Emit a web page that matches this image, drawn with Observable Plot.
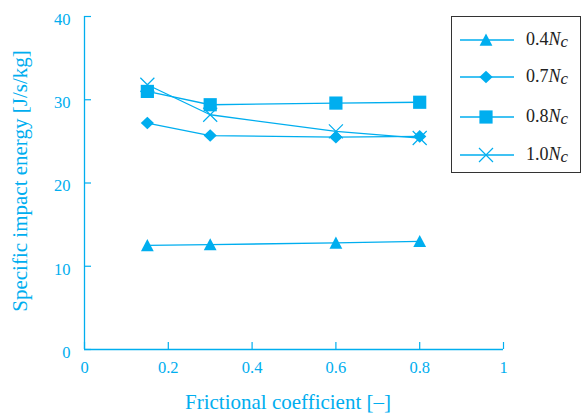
<!DOCTYPE html>
<html><head><meta charset="utf-8">
<script src="https://cdn.jsdelivr.net/npm/d3@7"></script>
<script src="https://cdn.jsdelivr.net/npm/@observablehq/plot@0.6"></script>
<style>
body{margin:0;background:#fff;}
#wrap{position:relative;width:584px;height:415px;font-family:"Liberation Serif","DejaVu Serif",serif;}
#wrap svg, #wrap svg text{font-family:"Liberation Serif","DejaVu Serif",serif !important;}
#legend{position:absolute;left:451px;top:16px;width:130px;height:157px;border:1px solid #333;box-sizing:border-box;background:#fff;}
.row{position:absolute;left:0;height:24px;display:flex;align-items:center;}
.row span{font-size:18px;color:#222;margin-left:10px;font-family:"Liberation Serif","DejaVu Serif",serif;}
.row sub{font-size:17px;vertical-align:-2px;}
</style></head>
<body><div id="wrap"></div>
<script>
const friction = [0.15, 0.3, 0.6, 0.8];
const seriesNames = ["0.4", "0.7", "0.8", "1.0"];
const energy04 = [12.5, 12.6, 12.8, 13.0];
const energy07 = [27.2, 25.7, 25.5, 25.6];
const energy08 = [31.0, 29.4, 29.6, 29.7];
const energy10 = [31.8, 28.2, 26.2, 25.4];
const xTicks = [0, 0.2, 0.4, 0.6, 0.8, 1];
const yTicks = [0, 10, 20, 30, 40];
const xLabel = "Frictional coefficient [–]";
const yLabel = "Specific impact energy [J/s/kg]";

const C = "#00aeef";
const R = s => Math.sqrt(s / Math.PI);
const triUp = {draw(ctx, size){const r = R(size); ctx.moveTo(0, -r); ctx.lineTo(r, r*0.9); ctx.lineTo(-r, r*0.9); ctx.closePath();}};
const diamond = {draw(ctx, size){const r = R(size); ctx.moveTo(0, -r*0.95); ctx.lineTo(r, 0); ctx.lineTo(0, r*0.95); ctx.lineTo(-r, 0); ctx.closePath();}};
const square = {draw(ctx, size){const r = R(size); ctx.rect(-r, -r, 2*r, 2*r);}};
const cross = {draw(ctx, size){const r = R(size); ctx.moveTo(-r, -r); ctx.lineTo(r, r); ctx.moveTo(r, -r); ctx.lineTo(-r, r);}};

const seriesVals = [energy04, energy07, energy08, energy10];
const symbols = [triUp, diamond, square, cross];
const sizes = [6.4, 6.6, 6.6, 7];
const data = seriesNames.map((s, k) => friction.map((f, i) => ({f, e: seriesVals[k][i], s})));

const marks = [
  Plot.ruleX([0], {stroke: C, strokeWidth: 1.3}),
  Plot.ruleY([0], {stroke: C, strokeWidth: 1.3}),
  Plot.axisY({ticks: yTicks, tickSize: -7, text: null, strokeWidth: 1.2, label: null}),
  Plot.axisY({ticks: yTicks, tickSize: 0, tickPadding: 14, fontSize: 16.5, dy: 3, label: null}),
  Plot.axisX({ticks: xTicks, tickSize: -7, text: null, strokeWidth: 1.2, label: null}),
  Plot.axisX({ticks: xTicks, tickSize: 0, tickPadding: 12, fontSize: 16.5, label: null, tickFormat: d => String(d)}),
  Plot.text([xLabel], {frameAnchor: "bottom", dy: 59, dx: -6, fontSize: 21, fill: C}),
  Plot.text([yLabel], {frameAnchor: "left", textAnchor: "middle", rotate: -90, dx: -64, dy: -2, fontSize: 21, fill: C}),
  ...data.map(d => Plot.line(d, {x: "f", y: "e", stroke: C, strokeWidth: 1.3})),
  ...data.map((d, k) => Plot.dot(d, k === 3
      ? {x: "f", y: "e", symbol: symbols[k], r: sizes[k], stroke: C, fill: "none", strokeWidth: 1.2}
      : {x: "f", y: "e", symbol: symbols[k], r: sizes[k], fill: C, stroke: null}))
];

const chart = Plot.plot({
  width: 584, height: 415,
  marginLeft: 84, marginRight: 81, marginTop: 16, marginBottom: 66,
  x: {domain: [0, 1], label: null},
  y: {domain: [0, 40], label: null},
  style: {color: C, background: "#fff", overflow: "visible"},
  marks
});
const wrap = document.getElementById("wrap");
wrap.appendChild(chart);

const legend = document.createElement("div");
legend.id = "legend";
const rowTops = [11, 48, 88, 126];
seriesNames.forEach((s, k) => {
  const row = document.createElement("div");
  row.className = "row";
  row.style.top = rowTops[k] + "px";
  const svg = d3.create("svg").attr("width", 64).attr("height", 24);
  svg.append("line").attr("x1", 8).attr("x2", 62).attr("y1", 12).attr("y2", 12).attr("stroke", C).attr("stroke-width", 1.3);
  const r = sizes[k];
  const p = svg.append("path").attr("transform", "translate(34,12)")
    .attr("d", d3.symbol(symbols[k], r * r * Math.PI)());
  if (k === 3) p.attr("fill", "none").attr("stroke", C).attr("stroke-width", 1.2);
  else p.attr("fill", C);
  row.appendChild(svg.node());
  const t = document.createElement("span");
  t.innerHTML = s + "<i>N</i><sub><i>c</i></sub>";
  row.appendChild(t);
  legend.appendChild(row);
});
wrap.appendChild(legend);
</script>
</body></html>
